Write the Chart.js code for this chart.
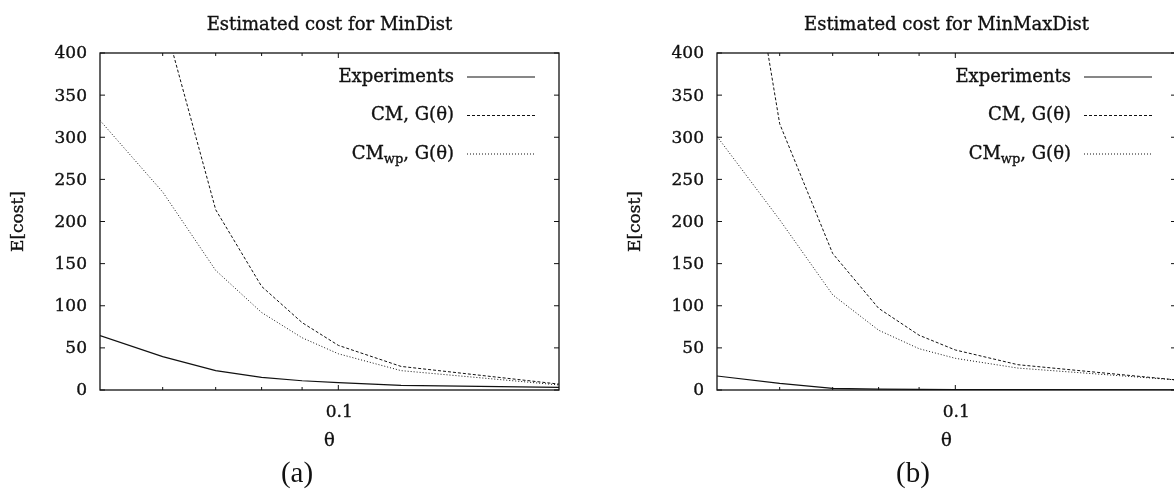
<!DOCTYPE html>
<html>
<head>
<meta charset="utf-8">
<script src="https://cdn.jsdelivr.net/npm/chart.js@4.4.1/dist/chart.umd.min.js"></script>
<style>
  html, body { margin: 0; padding: 0; background: #fff; overflow: hidden; }
  body { width: 1174px; height: 496px; position: relative; }
  .panel { position: absolute; top: 0; width: 587px; height: 496px; }
</style>
</head>
<body>
<div class="panel" style="left:0"><canvas id="chart-a" width="587" height="496"></canvas></div>
<div class="panel" style="left:617px"><canvas id="chart-b" width="587" height="496"></canvas></div>
<script>
// values
const thetas = [0.05, 0.06, 0.07, 0.08, 0.09, 0.1, 0.12, 0.19];

const expMinDist  = [64.5, 39.6, 23, 15, 11, 8.7, 5.5, 3];
const cmMinDist   = [900, 445, 214, 123, 80, 53, 28, 7];
const cmwpMinDist = [320, 235, 142, 92, 62, 43, 23, 6];

const expMinMaxDist  = [16.6, 7.9, 2, 1, 0.7, 0.5, 0.4, 0.3];
const cmMinMaxDist   = [763, 316, 162, 97, 65, 47.5, 30, 12];
const cmwpMinMaxDist = [301, 202, 113, 71, 49, 37.6, 26, 12];

const yTicks = [0, 50, 100, 150, 200, 250, 300, 350, 400];
const xMajorTicks = [0.1];
const xMinorTicks = [0.06, 0.07, 0.08, 0.09];
const seriesLabels = ["Experiments", "CM, G(θ)", "CM_{wp}, G(θ)"];

const FONT = '"DejaVu Serif", serif';
const INK = "#111";

// fill + hairline stroke, to get closer to the heavier print font
function text(ctx, s, x, y) {
  ctx.fillText(s, x, y);
  ctx.strokeText(s, x, y);
}

// draws "CM_{wp}, G(θ)" right-aligned with a subscript
function drawRich(ctx, s, xRight, y) {
  const parts = [];
  const re = /_\{([^}]*)\}/g;
  let last = 0, m;
  while ((m = re.exec(s))) {
    parts.push({ t: s.slice(last, m.index), sub: false });
    parts.push({ t: m[1], sub: true });
    last = re.lastIndex;
  }
  parts.push({ t: s.slice(last), sub: false });
  const fontFor = p => p.sub ? `13px ${FONT}` : `18px ${FONT}`;
  let total = 0;
  parts.forEach(p => { ctx.font = fontFor(p); total += ctx.measureText(p.t).width; });
  let x = xRight - total;
  ctx.textAlign = "left";
  parts.forEach(p => {
    ctx.font = fontFor(p);
    text(ctx, p.t, x, p.sub ? y + 6 : y);
    x += ctx.measureText(p.t).width;
  });
}

const gnuplotLook = {
  id: "gnuplotLook",
  afterDatasetsDraw(chart, args, opts) {
    const { ctx, chartArea: a, scales } = chart;
    ctx.save();
    ctx.strokeStyle = INK;
    ctx.fillStyle = INK;

    // frame
    ctx.lineWidth = 1.3;
    ctx.setLineDash([]);
    ctx.strokeRect(a.left, a.top, a.right - a.left, a.bottom - a.top);

    // inward ticks, mirrored
    ctx.lineWidth = 1;
    ctx.beginPath();
    yTicks.forEach(v => {
      const y = scales.y.getPixelForValue(v);
      ctx.moveTo(a.left, y); ctx.lineTo(a.left + 5, y);
      ctx.moveTo(a.right, y); ctx.lineTo(a.right - 5, y);
    });
    xMajorTicks.forEach(v => {
      const x = scales.x.getPixelForValue(v);
      ctx.moveTo(x, a.bottom); ctx.lineTo(x, a.bottom - 5);
      ctx.moveTo(x, a.top); ctx.lineTo(x, a.top + 5);
    });
    xMinorTicks.forEach(v => {
      const x = scales.x.getPixelForValue(v);
      ctx.moveTo(x, a.bottom); ctx.lineTo(x, a.bottom - 3);
      ctx.moveTo(x, a.top); ctx.lineTo(x, a.top + 3);
    });
    ctx.stroke();

    ctx.lineWidth = 0.35;

    // tick labels
    ctx.font = `17px ${FONT}`;
    ctx.textBaseline = "middle";
    ctx.textAlign = "right";
    yTicks.forEach(v => text(ctx, String(v), a.left - 13, scales.y.getPixelForValue(v) + 1));
    ctx.textAlign = "center";
    xMajorTicks.forEach(v => text(ctx, String(v), scales.x.getPixelForValue(v) + 1, 413));

    const cx = (a.left + a.right) / 2;

    // title
    ctx.font = `18px ${FONT}`;
    ctx.textBaseline = "alphabetic";
    text(ctx, opts.title, cx, 30);

    // axis titles
    ctx.textBaseline = "middle";
    text(ctx, "θ", cx, 441);
    ctx.save();
    ctx.translate(a.left - 81, (a.top + a.bottom) / 2);
    ctx.rotate(-Math.PI / 2);
    ctx.font = `17px ${FONT}`;
    text(ctx, "E[cost]", 0, 0);
    ctx.restore();

    // subfigure caption
    ctx.font = '29px "Liberation Serif", serif';
    ctx.fillText(opts.caption, a.left + opts.captionDx, 474);

    // key, top right inside the frame
    chart.data.datasets.forEach((ds, i) => {
      const y = a.top + 24 + i * 38.5;
      ctx.textBaseline = "middle";
      ctx.lineWidth = 0.35;
      ctx.setLineDash([]);
      drawRich(ctx, ds.label, a.right - 105, y);
      ctx.lineWidth = ds.borderWidth;
      ctx.setLineDash(ds.borderDash || []);
      ctx.beginPath();
      ctx.moveTo(a.right - 92, y);
      ctx.lineTo(a.right - 24, y);
      ctx.stroke();
    });
    ctx.restore();
  }
};

function buildChart(canvasId, exp, cm, cmwp, title, caption, captionDx) {
  const pts = arr => thetas.map((t, i) => ({ x: t, y: arr[i] }));
  return new Chart(document.getElementById(canvasId), {
    type: "line",
    data: {
      datasets: [
        { label: seriesLabels[0], data: pts(exp), borderColor: INK, borderWidth: 1.2 },
        { label: seriesLabels[1], data: pts(cm), borderColor: INK, borderWidth: 1, borderDash: [3, 2] },
        { label: seriesLabels[2], data: pts(cmwp), borderColor: INK, borderWidth: 1, borderDash: [1, 2] },
      ]
    },
    options: {
      responsive: false,
      animation: false,
      elements: { point: { radius: 0 }, line: { tension: 0, fill: false } },
      layout: { padding: { top: 53, right: 28, left: 0, bottom: 0 } },
      plugins: {
        legend: { display: false },
        tooltip: { enabled: false },
        gnuplotLook: { title, caption, captionDx },
      },
      scales: {
        x: {
          type: "logarithmic",
          min: 0.05,
          max: 0.19,
          afterBuildTicks: s => { s.ticks = xMajorTicks.map(v => ({ value: v })); },
          afterFit: s => { s.height = 106; },
          grid: { display: false },
          border: { display: false },
          ticks: { display: false },
        },
        y: {
          min: 0,
          max: 400,
          afterFit: s => { s.width = 100; },
          grid: { display: false },
          border: { display: false },
          ticks: { display: false, stepSize: 50 },
        },
      },
    },
    plugins: [gnuplotLook],
  });
}

buildChart("chart-a", expMinDist, cmMinDist, cmwpMinDist, "Estimated cost for MinDist", "(a)", 197);
buildChart("chart-b", expMinMaxDist, cmMinMaxDist, cmwpMinMaxDist, "Estimated cost for MinMaxDist", "(b)", 196);
</script>
</body>
</html>
